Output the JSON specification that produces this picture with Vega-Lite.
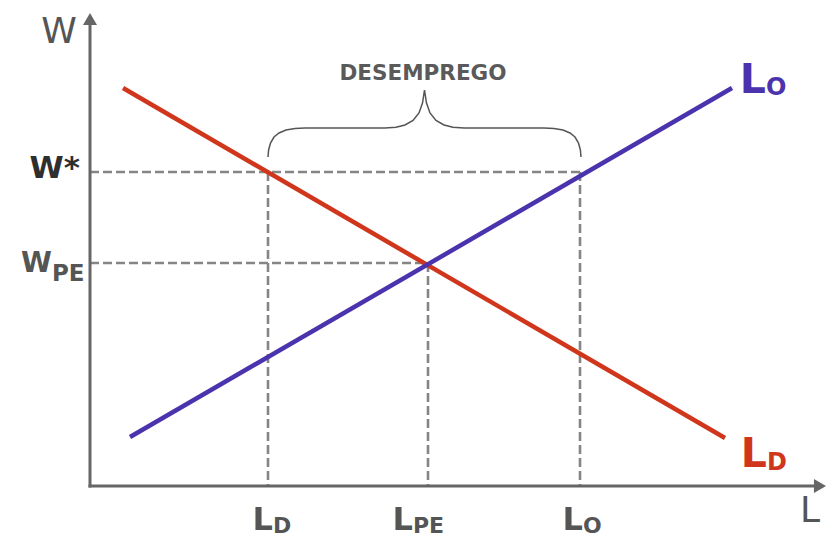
{
  "$schema": "https://vega.github.io/schema/vega-lite/v6.json",
  "width": 827,
  "height": 538,
  "autosize": "none",
  "padding": 0,
  "background": "white",
  "config": {"view": {"stroke": null}},
  "datasets": {
    "curves": [
      {"curve": "LD", "L": 3.3, "W": 39.8},
      {"curve": "LD", "L": 63.5, "W": 4.8},
      {"curve": "LO", "L": 4.0, "W": 4.9},
      {"curve": "LO", "L": 64.2, "W": 39.8}
    ],
    "guides": [
      {"L": 0, "W": 31.4, "L2": 49.0, "W2": 31.4},
      {"L": 0, "W": 22.3, "L2": 33.8, "W2": 22.3},
      {"L": 17.8, "W": 31.4, "L2": 17.8, "W2": 0},
      {"L": 33.8, "W": 22.3, "L2": 33.8, "W2": 0},
      {"L": 49.0, "W": 31.4, "L2": 49.0, "W2": 0}
    ],
    "axes": [
      {"L": 0, "W": 0, "L2": 0, "W2": 46.7},
      {"L": 0, "W": 0, "L2": 73.0, "W2": 0}
    ],
    "arrows": [
      {"dir": "up", "L": 0, "W": 46.7},
      {"dir": "right", "L": 73.0, "W": 0}
    ],
    "brace": [
      {"i": 1, "L": 17.8, "W": 32.9},
      {"i": 2, "L": 17.86, "W": 33.6},
      {"i": 3, "L": 18.05, "W": 34.3},
      {"i": 4, "L": 18.4, "W": 34.9},
      {"i": 5, "L": 18.9, "W": 35.3},
      {"i": 6, "L": 19.6, "W": 35.6},
      {"i": 7, "L": 20.5, "W": 35.75},
      {"i": 8, "L": 21.5, "W": 35.8},
      {"i": 9, "L": 29.5, "W": 35.8},
      {"i": 10, "L": 30.6, "W": 35.88},
      {"i": 11, "L": 31.5, "W": 36.1},
      {"i": 12, "L": 32.3, "W": 36.55},
      {"i": 13, "L": 32.9, "W": 37.3},
      {"i": 14, "L": 33.25, "W": 38.3},
      {"i": 15, "L": 33.45, "W": 39.6},
      {"i": 16, "L": 33.65, "W": 38.3},
      {"i": 17, "L": 34.0, "W": 37.3},
      {"i": 18, "L": 34.6, "W": 36.55},
      {"i": 19, "L": 35.4, "W": 36.1},
      {"i": 20, "L": 36.3, "W": 35.88},
      {"i": 21, "L": 37.4, "W": 35.8},
      {"i": 22, "L": 45.4, "W": 35.8},
      {"i": 23, "L": 46.4, "W": 35.75},
      {"i": 24, "L": 47.3, "W": 35.6},
      {"i": 25, "L": 48.0, "W": 35.3},
      {"i": 26, "L": 48.5, "W": 34.9},
      {"i": 27, "L": 48.85, "W": 34.3},
      {"i": 28, "L": 49.04, "W": 33.6},
      {"i": 29, "L": 49.1, "W": 32.9}
    ],
    "labels": [
      {"kind": "axis", "t": "W", "L": -3.1, "W": 44.3},
      {"kind": "axis", "t": "L", "L": 72.0, "W": -3.6},
      {"kind": "title", "t": "DESEMPREGO", "L": 33.3, "W": 40.6},
      {"kind": "wstar", "t": "W*", "L": -1.0, "W": 30.8},
      {"kind": "wpe", "t": "W", "L": -3.8, "W": 21.4},
      {"kind": "wpeSub", "t": "PE", "L": -3.8, "W": 20.5},
      {"kind": "xMain", "t": "L", "L": 18.3, "W": -4.35},
      {"kind": "xSub", "t": "D", "L": 18.3, "W": -4.65},
      {"kind": "xMain", "t": "L", "L": 32.3, "W": -4.35},
      {"kind": "xSub", "t": "PE", "L": 32.3, "W": -4.65},
      {"kind": "xMain", "t": "L", "L": 49.3, "W": -4.35},
      {"kind": "xSub", "t": "O", "L": 49.3, "W": -4.65},
      {"kind": "curveMain", "curve": "LO", "t": "L", "L": 67.6, "W": 39.3},
      {"kind": "curveSub", "curve": "LO", "t": "O", "L": 67.6, "W": 39.1},
      {"kind": "curveMain", "curve": "LD", "t": "L", "L": 67.7, "W": 1.9},
      {"kind": "curveSub", "curve": "LD", "t": "D", "L": 67.7, "W": 1.6}
    ]
  },
  "encoding": {
    "x": {"field": "L", "type": "quantitative", "axis": null,
          "scale": {"domain": [-9, 73.7], "nice": false, "zero": false}},
    "y": {"field": "W", "type": "quantitative", "axis": null,
          "scale": {"domain": [-5.2, 48.6], "nice": false, "zero": false}}
  },
  "layer": [
    {
      "data": {"name": "guides"},
      "mark": {"type": "rule", "color": "#858585", "strokeWidth": 2.6, "strokeDash": [9, 4]},
      "encoding": {"x2": {"field": "L2"}, "y2": {"field": "W2"}}
    },
    {
      "data": {"name": "axes"},
      "mark": {"type": "rule", "color": "#666666", "strokeWidth": 3, "strokeCap": "square"},
      "encoding": {"x2": {"field": "L2"}, "y2": {"field": "W2"}}
    },
    {
      "data": {"name": "arrows"},
      "transform": [{"filter": "datum.dir === 'up'"}],
      "mark": {"type": "point", "shape": "triangle-up", "size": 196, "filled": true, "color": "#666666", "opacity": 1}
    },
    {
      "data": {"name": "arrows"},
      "transform": [{"filter": "datum.dir === 'right'"}],
      "mark": {"type": "point", "shape": "triangle-right", "size": 196, "filled": true, "color": "#666666", "opacity": 1}
    },
    {
      "data": {"name": "brace"},
      "mark": {"type": "line", "color": "#555555", "strokeWidth": 1.5},
      "encoding": {"order": {"field": "i", "type": "quantitative"}}
    },
    {
      "data": {"name": "curves"},
      "mark": {"type": "line", "strokeWidth": 4.5, "strokeCap": "butt"},
      "encoding": {
        "color": {"field": "curve", "type": "nominal", "legend": null,
                  "scale": {"domain": ["LD", "LO"], "range": ["#d0361b", "#4a33ad"]}}
      }
    },
    {
      "data": {"name": "labels"},
      "transform": [{"filter": "datum.kind === 'axis'"}],
      "mark": {"type": "text", "font": "DejaVu Sans", "fontSize": 36, "fontWeight": "normal",
               "color": "#555555", "align": "center", "baseline": "alphabetic"},
      "encoding": {"text": {"field": "t"}}
    },
    {
      "data": {"name": "labels"},
      "transform": [{"filter": "datum.kind === 'title'"}],
      "mark": {"type": "text", "font": "DejaVu Sans", "fontSize": 21.5, "fontWeight": "bold",
               "color": "#5a5a5a", "align": "center", "baseline": "alphabetic"},
      "encoding": {"text": {"field": "t"}}
    },
    {
      "data": {"name": "labels"},
      "transform": [{"filter": "datum.kind === 'wstar'"}],
      "mark": {"type": "text", "font": "DejaVu Sans", "fontSize": 31, "fontWeight": "bold",
               "color": "#2e2e2e", "align": "right", "baseline": "alphabetic"},
      "encoding": {"text": {"field": "t"}}
    },
    {
      "data": {"name": "labels"},
      "transform": [{"filter": "datum.kind === 'wpe'"}],
      "mark": {"type": "text", "font": "DejaVu Sans", "fontSize": 28, "fontWeight": "bold",
               "color": "#555555", "align": "right", "baseline": "alphabetic"},
      "encoding": {"text": {"field": "t"}}
    },
    {
      "data": {"name": "labels"},
      "transform": [{"filter": "datum.kind === 'wpeSub'"}],
      "mark": {"type": "text", "font": "DejaVu Sans", "fontSize": 23, "fontWeight": "bold",
               "color": "#555555", "align": "left", "baseline": "alphabetic"},
      "encoding": {"text": {"field": "t"}}
    },
    {
      "data": {"name": "labels"},
      "transform": [{"filter": "datum.kind === 'xMain'"}],
      "mark": {"type": "text", "font": "DejaVu Sans", "fontSize": 32, "fontWeight": "bold",
               "color": "#555555", "align": "right", "baseline": "alphabetic"},
      "encoding": {"text": {"field": "t"}}
    },
    {
      "data": {"name": "labels"},
      "transform": [{"filter": "datum.kind === 'xSub'"}],
      "mark": {"type": "text", "font": "DejaVu Sans", "fontSize": 22, "fontWeight": "bold",
               "color": "#555555", "align": "left", "baseline": "alphabetic"},
      "encoding": {"text": {"field": "t"}}
    },
    {
      "data": {"name": "labels"},
      "transform": [{"filter": "datum.kind === 'curveMain'"}],
      "mark": {"type": "text", "font": "DejaVu Sans", "fontSize": 41, "fontWeight": "bold",
               "align": "right", "baseline": "alphabetic"},
      "encoding": {
        "text": {"field": "t"},
        "color": {"field": "curve", "type": "nominal", "legend": null,
                  "scale": {"domain": ["LD", "LO"], "range": ["#d0361b", "#4a33ad"]}}
      }
    },
    {
      "data": {"name": "labels"},
      "transform": [{"filter": "datum.kind === 'curveSub'"}],
      "mark": {"type": "text", "font": "DejaVu Sans", "fontSize": 24, "fontWeight": "bold",
               "align": "left", "baseline": "alphabetic"},
      "encoding": {
        "text": {"field": "t"},
        "color": {"field": "curve", "type": "nominal", "legend": null,
                  "scale": {"domain": ["LD", "LO"], "range": ["#d0361b", "#4a33ad"]}}
      }
    }
  ]
}
